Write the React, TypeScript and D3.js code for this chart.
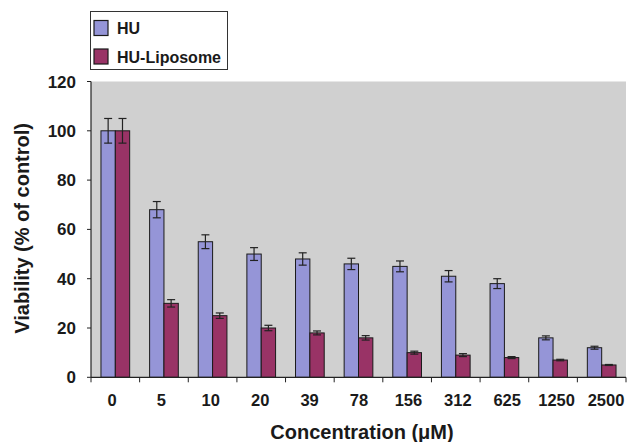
import React from "react";
import * as d3 from "d3";

const categories = ["0", "5", "10", "20", "39", "78", "156", "312", "625", "1250", "2500"];
const huValues = [100, 68, 55, 50, 48, 46, 45, 41, 38, 16, 12];
const huErrors = [5, 3.3, 2.8, 2.6, 2.5, 2.3, 2.2, 2.3, 2, 0.8, 0.6];
const lipoValues = [100, 30, 25, 20, 18, 16, 10, 9, 8, 7, 5];
const lipoErrors = [5, 1.5, 1.1, 1.1, 0.8, 0.9, 0.6, 0.6, 0.4, 0.3, 0.2];
const yTicks = [0, 20, 40, 60, 80, 100, 120];
const seriesNames = ["HU", "HU-Liposome"];
const colors = ["#9595d7", "#993366"];

const W = 628;
const H = 442;
const left = 91;
const right = 626;
const top = 81.5;
const bottom = 377.3;
const FONT = "'Liberation Sans', Arial, sans-serif";

export default function App() {
  const x = d3.scaleBand<string>().domain(categories).range([left, right]).paddingInner(0).paddingOuter(0);
  const y = d3.scaleLinear().domain([0, 120]).range([bottom, top]);
  const bw = x.bandwidth();
  const inner = d3.scaleBand<number>().domain([0, 1]).range([bw * 0.205, bw * 0.795]);
  const series = [
    { vals: huValues, errs: huErrors },
    { vals: lipoValues, errs: lipoErrors },
  ];
  const capW = 8;
  // tick labels in the reference sit slightly more spread than the band centres
  const labelX = d3.scaleLinear().domain([0, categories.length - 1]).range([112, 606]);

  return (
    <svg width={W} height={H} style={{ position: "absolute", left: 0, top: 0 }} fontFamily={FONT}>
      <rect x={0} y={0} width={W} height={H} fill="#ffffff" />
      <rect x={left} y={top} width={right - left} height={bottom - top} fill="#d0d0d0" />
      {series.map((s, si) =>
        s.vals.map((v, i) => {
          const bx = (x(categories[i]) as number) + (inner(si) as number);
          const w = inner.bandwidth();
          const cx = bx + w / 2;
          const yHi = y(v + s.errs[i]);
          const yLo = y(v - s.errs[i]);
          return (
            <g key={`${si}-${i}`}>
              <rect x={bx} y={y(v)} width={w} height={bottom - y(v)} fill={colors[si]} stroke="#1a1a1a" strokeWidth={1} />
              <line x1={cx} x2={cx} y1={yHi} y2={yLo} stroke="#222" strokeWidth={1.2} />
              <line x1={cx - capW / 2} x2={cx + capW / 2} y1={yHi} y2={yHi} stroke="#222" strokeWidth={1.2} />
              <line x1={cx - capW / 2} x2={cx + capW / 2} y1={yLo} y2={yLo} stroke="#222" strokeWidth={1.2} />
            </g>
          );
        })
      )}
      {/* axes */}
      <line x1={left} x2={left} y1={top} y2={bottom} stroke="#222" strokeWidth={1.2} />
      <line x1={left} x2={right} y1={bottom} y2={bottom} stroke="#222" strokeWidth={1.2} />
      {yTicks.map((t) => (
        <g key={t}>
          <line x1={left - 4} x2={left} y1={y(t)} y2={y(t)} stroke="#222" strokeWidth={1} />
          <text x={76} y={y(t) + 6} textAnchor="end" fontSize={17} fontWeight="bold" fill="#1a1a1a">
            {t}
          </text>
        </g>
      ))}
      {categories.map((c, i) => (
        <g key={c}>
          <line x1={x(c) as number} x2={x(c) as number} y1={bottom} y2={bottom + 5} stroke="#222" strokeWidth={1} />
          <text x={labelX(i)} y={406} textAnchor="middle" fontSize={16.5} fontWeight="bold" fill="#1a1a1a">
            {c}
          </text>
        </g>
      ))}
      <line x1={right} x2={right} y1={bottom} y2={bottom + 5} stroke="#222" strokeWidth={1} />
      <text x={362} y={439} textAnchor="middle" fontSize={20} fontWeight="bold" fill="#1a1a1a">
        Concentration (μM)
      </text>
      <text
        transform={`translate(29,${(top + bottom) / 2 - 1}) rotate(-90)`}
        textAnchor="middle"
        fontSize={20}
        fontWeight="bold"
        fill="#1a1a1a"
      >
        Viability (% of control)
      </text>
      {/* legend */}
      <rect x={90.5} y={11.5} width={137} height={58} fill="#ffffff" stroke="#333" strokeWidth={1} />
      {seriesNames.map((n, i) => (
        <g key={n}>
          <rect x={94} y={20.5 + i * 28.5} width={14} height={15} fill={colors[i]} stroke="#1a1a1a" strokeWidth={1.2} />
          <text x={117} y={34.3 + i * 29} fontSize={16} fontWeight="bold" fill="#1a1a1a">
            {n}
          </text>
        </g>
      ))}
    </svg>
  );
}
